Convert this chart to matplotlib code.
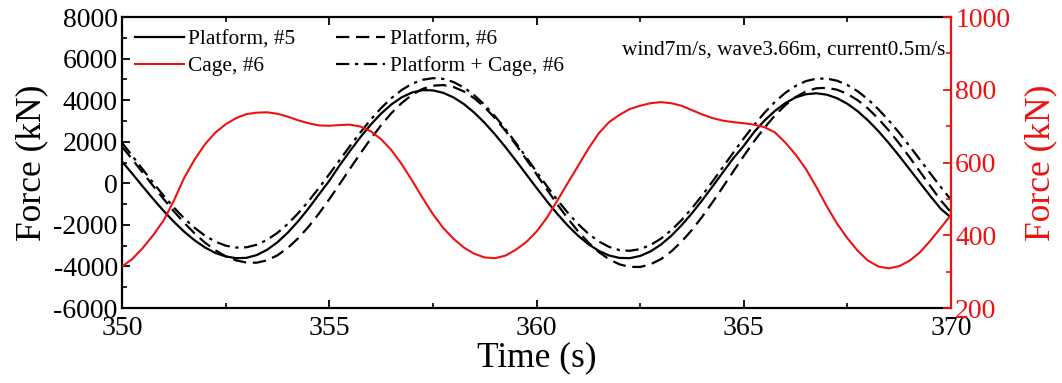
import matplotlib
matplotlib.use("Agg")
import matplotlib.pyplot as plt
from matplotlib.ticker import MultipleLocator

plt.rcParams["font.family"] = ["Liberation Serif", "DejaVu Serif"]
plt.rcParams["axes.unicode_minus"] = False

# Time samples (s)
time = [350.0 + 0.25 * i for i in range(81)]

# Forces on the left axis (kN)
platform_5 = [1050, 456, -154, -750, -1322, -1849, -2329, -2742, -3085, -3352,
              -3519, -3602, -3588, -3453, -3200, -2836, -2373, -1825, -1207, -540,
              120, 863, 1556, 2216, 2821, 3353, 3797, 4140, 4370, 4480,
              4471, 4352, 4129, 3808, 3396, 2906, 2349, 1742, 1099, 440,
              -220, -862, -1469, -2026, -2516, -2928, -3249, -3472, -3591, -3601,
              -3496, -3277, -2951, -2528, -2017, -1441, -810, -143, 537, 1212,
              1800, 2469, 3015, 3481, 3854, 4132, 4284, 4330, 4264, 4094,
              3824, 3463, 3018, 2504, 1929, 1316, 676, 28, -611, -1223,
              -1650]

platform_6 = [1760, 1145, 512, -123, -747, -1346, -1903, -2410, -2853, -3222,
              -3509, -3707, -3813, -3820, -3705, -3465, -3108, -2644, -2087, -1458,
              -765, -39, 703, 1435, 2138, 2791, 3377, 3867, 4263, 4540,
              4697, 4725, 4630, 4416, 4088, 3656, 3131, 2527, 1868, 1160,
              433, -298, -1010, -1683, -2304, -2848, -3303, -3655, -3899, -4023,
              -4025, -3899, -3649, -3281, -2807, -2242, -1602, -899, -168, 579,
              1316, 2021, 2677, 3262, 3753, 4147, 4419, 4570, 4594, 4502,
              4300, 3993, 3590, 3101, 2536, 1915, 1254, 565, -130, -815,
              -1400]

platform_cage_6 = [1950, 1312, 666, 27, -587, -1164, -1687, -2141, -2518, -2806,
                   -2999, -3092, -3080, -2955, -2721, -2384, -1953, -1439, -860, -228,
                   436, 1116, 1793, 2446, 3062, 3616, 4100, 4492, 4794, 4978,
                   5058, 5022, 4869, 4604, 4233, 3768, 3218, 2611, 1947, 1256,
                   554, -137, -798, -1408, -1959, -2423, -2795, -3059, -3212, -3248,
                   -3166, -2970, -2666, -2261, -1768, -1200, -572, 97, 788, 1483,
                   2162, 2804, 3394, 3913, 4347, 4683, 4917, 5034, 5038, 4935,
                   4728, 4425, 4031, 3558, 3018, 2428, 1791, 1137, 476, -172,
                   -800]

# Force on the right axis (kN)
cage_6 = [314, 335, 365, 400, 440, 495, 558, 608, 650, 682,
          705, 722, 733, 737, 738, 734, 726, 716, 708, 702,
          701, 703, 704, 699, 686, 664, 634, 595, 550, 503,
          458, 420, 390, 366, 349, 339, 337, 344, 360, 381,
          410, 448, 495, 543, 590, 638, 680, 711, 731, 747,
          756, 763, 766, 763, 756, 744, 732, 722, 715, 711,
          708, 704, 697, 683, 655, 622, 582, 533, 480, 432,
          392, 357, 330, 314, 309, 315, 330, 353, 385, 420,
          456]

RED = "#ee1111"
TICK_FS = 20
LABEL_FS = 25.5
TEXT_FS = 15.4

fig = plt.figure(figsize=(10.62, 3.83), dpi=100)
ax = fig.add_axes([0.1149, 0.1958, 0.7806, 0.7598])
ax2 = ax.twinx()

l5, = ax.plot(time, platform_5, color="black", lw=1.6, label="Platform, #5")
l6, = ax.plot(time, platform_6, color="black", lw=1.6,
              linestyle=(0, (6, 3)), label="Platform, #6")
lpc, = ax.plot(time, platform_cage_6, color="black", lw=1.6,
               linestyle=(0, (6, 2.5, 1.5, 2.5)), label="Platform + Cage, #6")
lc, = ax2.plot(time, cage_6, color=RED, lw=1.5, label="Cage, #6")

ax.set_xlim(350, 370)
ax.set_ylim(-6000, 8000)
ax2.set_ylim(200, 1000)

ax.xaxis.set_major_locator(MultipleLocator(5))
ax.xaxis.set_minor_locator(MultipleLocator(2.5))
ax.yaxis.set_major_locator(MultipleLocator(2000))
ax.yaxis.set_minor_locator(MultipleLocator(1000))
ax2.yaxis.set_major_locator(MultipleLocator(200))
ax2.yaxis.set_minor_locator(MultipleLocator(100))

ax.tick_params(axis="both", which="major", direction="in", length=6, width=1.3,
               labelsize=TICK_FS, pad=3, top=True, right=False)
ax.tick_params(axis="both", which="minor", direction="in", length=3.5, width=1.2,
               top=True, right=False)
ax.tick_params(axis="x", pad=6)
ax2.tick_params(axis="y", which="major", direction="in", length=6, width=1.3,
                labelsize=TICK_FS, pad=3, colors=RED)
ax2.tick_params(axis="y", which="minor", direction="in", length=3.5, width=1.2,
                colors=RED)

for side in ["left", "bottom", "top"]:
    ax.spines[side].set_linewidth(1.6)
for side in ["left", "bottom", "top"]:
    ax2.spines[side].set_visible(False)
ax.spines["right"].set_visible(False)
ax2.spines["right"].set_color(RED)
ax2.spines["right"].set_linewidth(1.6)

ax.set_xlabel("Time (s)", fontsize=LABEL_FS, labelpad=0)
ax.set_ylabel("Force (kN)", fontsize=LABEL_FS, labelpad=4)
ax2.set_ylabel("Force (kN)", fontsize=LABEL_FS, color=RED, labelpad=10)

ax2.legend([l5, lc, l6, lpc],
           ["Platform, #5", "Cage, #6", "Platform, #6", "Platform + Cage, #6"],
           ncol=2, loc="upper left", frameon=False, fontsize=TEXT_FS,
           handlelength=2.3, handletextpad=0.2, columnspacing=1.9,
           labelspacing=0.3, borderaxespad=0.2, bbox_to_anchor=(0.0, 1.0))

ax2.text(0.993, 0.885, "wind7m/s, wave3.66m, current0.5m/s",
         transform=ax.transAxes, ha="right", va="center", fontsize=TEXT_FS)

fig.savefig("out.png", dpi=100)
